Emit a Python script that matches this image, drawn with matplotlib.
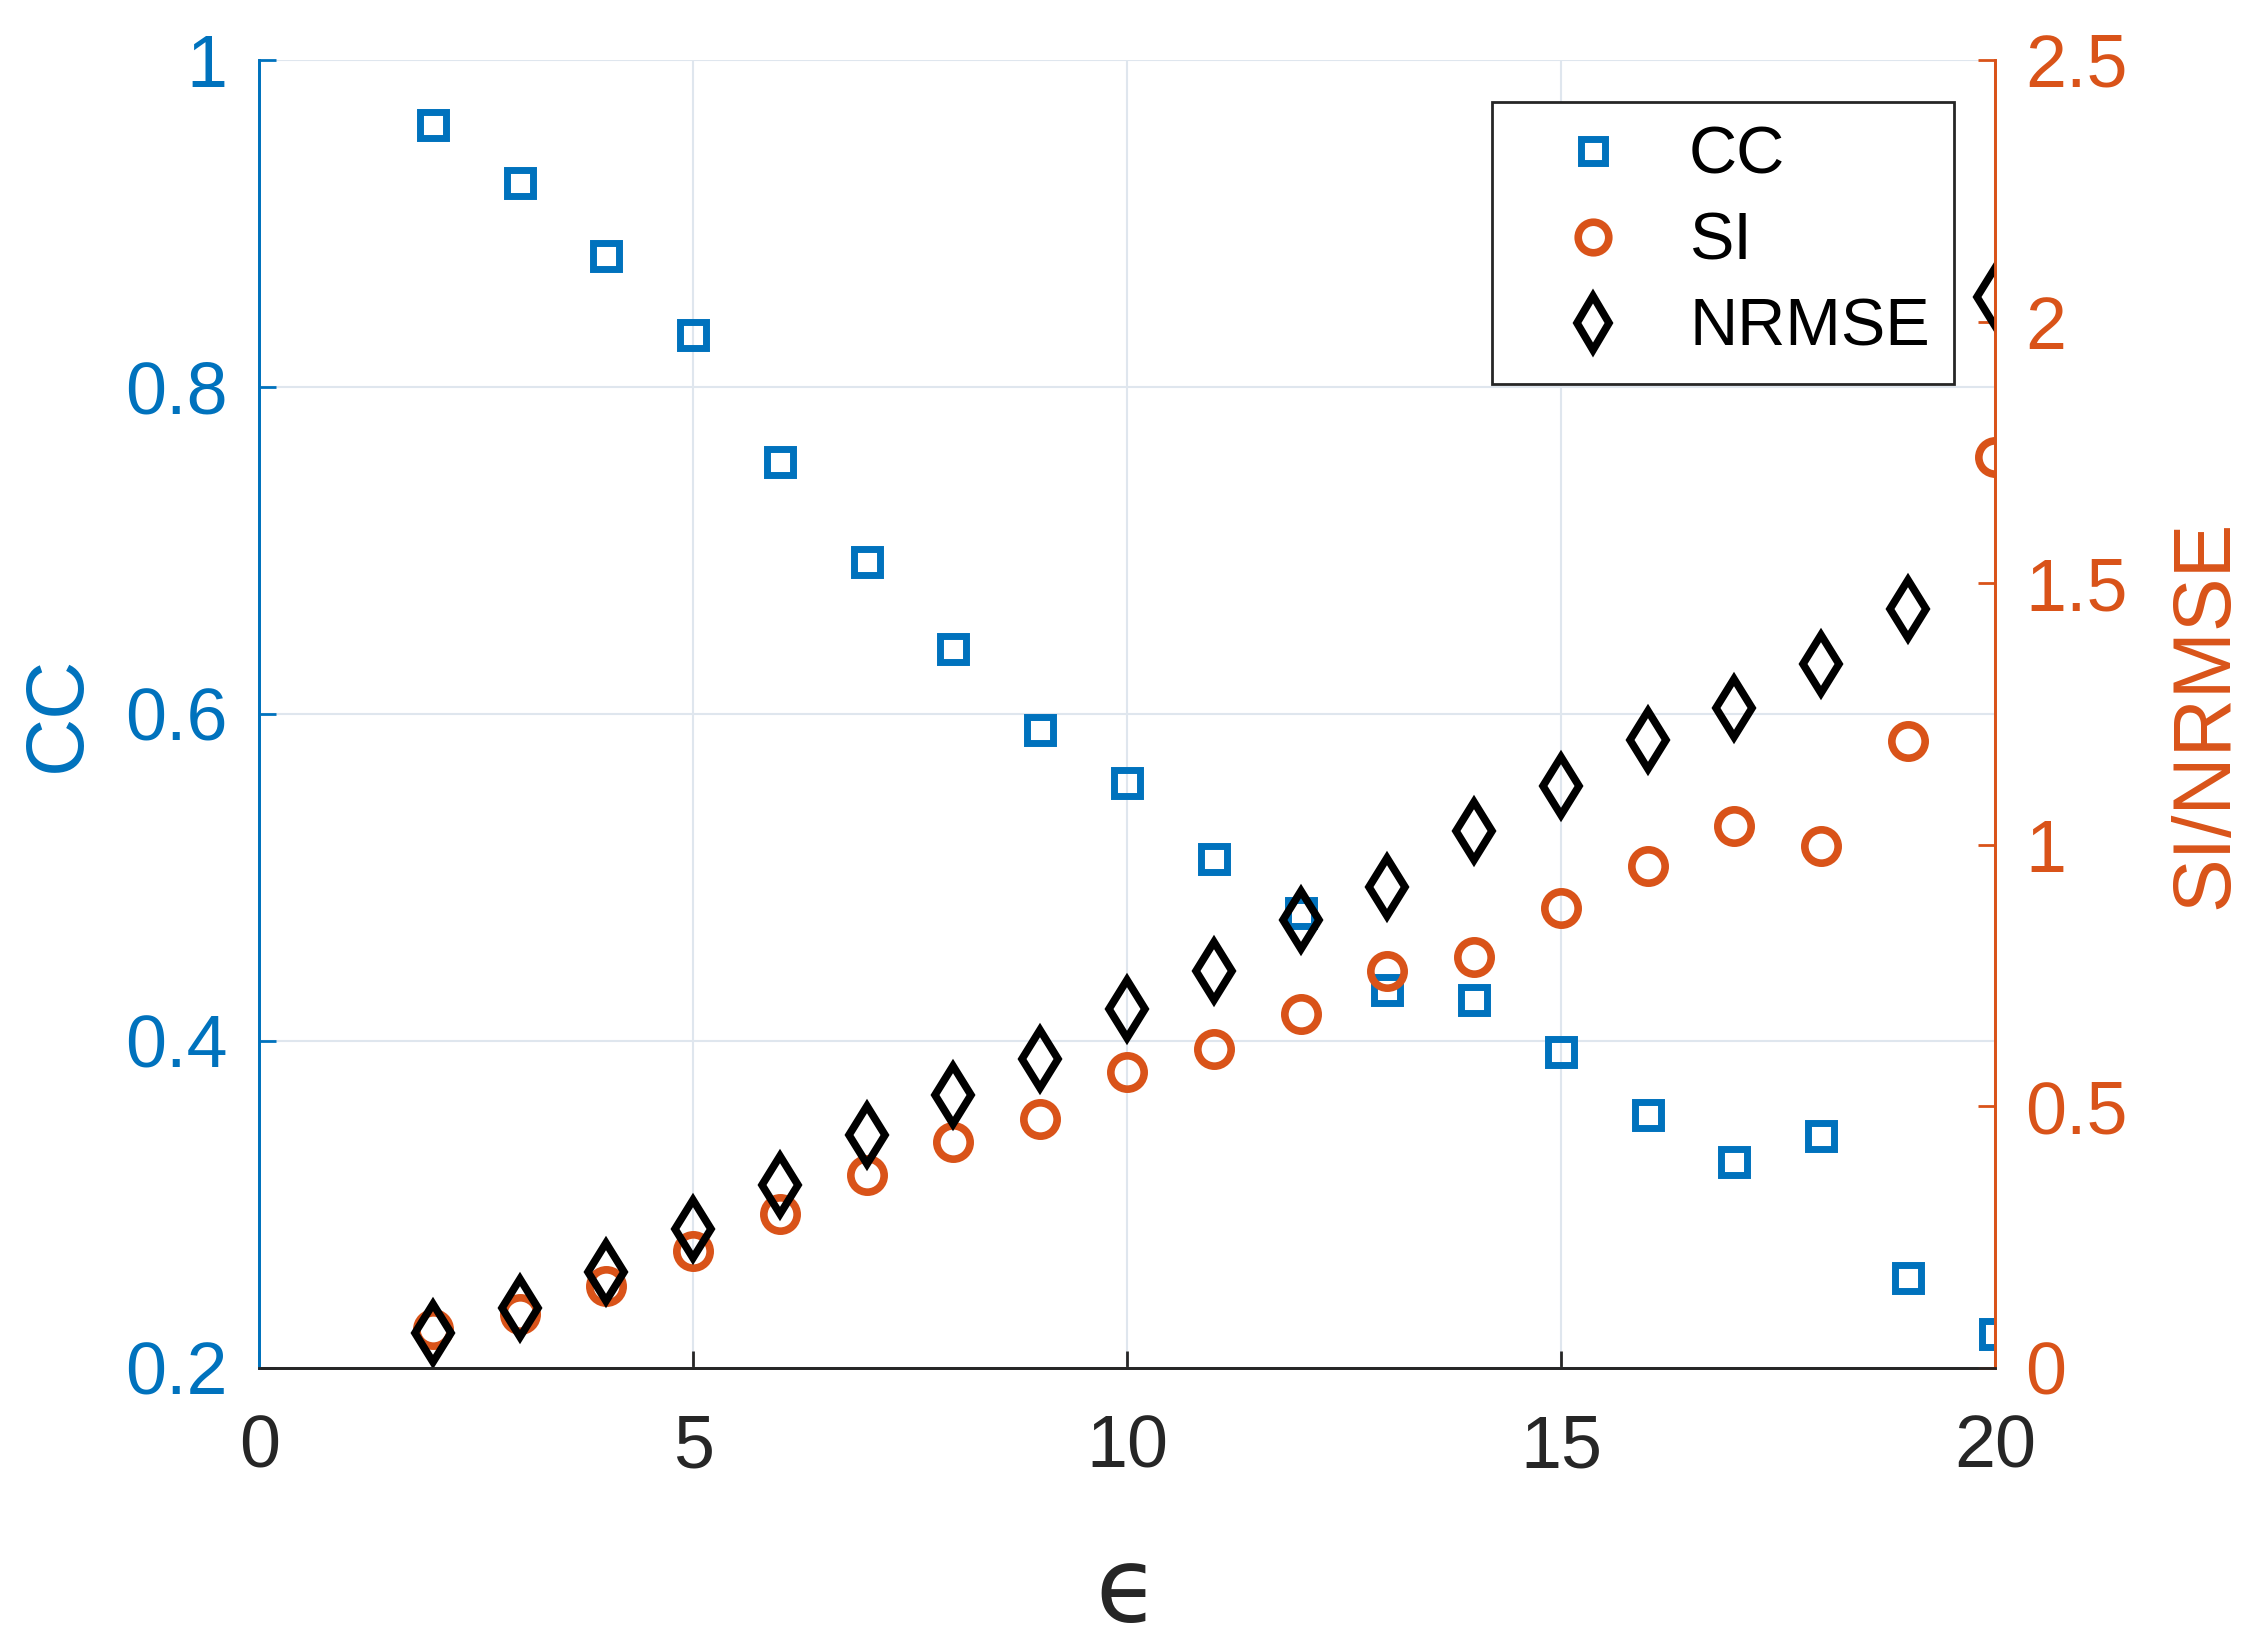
import numpy as np
import matplotlib
matplotlib.use("Agg")
import matplotlib.pyplot as plt
from matplotlib.lines import Line2D

plt.rcParams.update({"font.family": ["Liberation Sans", "DejaVu Sans"]})

# ---------------------------------------------------------------------------
# Data
# ---------------------------------------------------------------------------
eps = [2, 3, 4, 5, 6, 7, 8, 9, 10, 11, 12, 13, 14, 15, 16, 17, 18, 19, 20]
cc = [0.960, 0.925, 0.880, 0.832, 0.754, 0.693, 0.640, 0.590, 0.558, 0.511,
      0.478, 0.431, 0.425, 0.393, 0.355, 0.326, 0.342, 0.255, 0.221]
si = [0.074, 0.104, 0.157, 0.223, 0.294, 0.368, 0.431, 0.475, 0.566, 0.610,
      0.676, 0.758, 0.786, 0.879, 0.959, 1.036, 0.997, 1.198, 1.742]
nrmse = [0.066, 0.115, 0.184, 0.266, 0.349, 0.445, 0.522, 0.591, 0.687, 0.758,
         0.857, 0.920, 1.027, 1.113, 1.201, 1.261, 1.346, 1.451, 2.047]

left_ticks = [0.2, 0.4, 0.6, 0.8, 1.0]
left_labels = ["0.2", "0.4", "0.6", "0.8", "1"]
right_ticks = [0, 0.5, 1.0, 1.5, 2.0, 2.5]
right_labels = ["0", "0.5", "1", "1.5", "2", "2.5"]
x_ticks = [0, 5, 10, 15, 20]

BLUE = "#0072BD"
ORANGE = "#D95319"
DARK = "#262626"
FS = 53       # tick labels
FS_LAB = 58   # axis labels
FS_LEG = 48   # legend

fig = plt.figure(figsize=(22.54, 16.47), dpi=100)
ax = fig.add_axes([0.115, 0.1694, 0.77, 0.7942])
ax2 = ax.twinx()

# CC on left axis
ax.plot(eps, cc, ls="none", marker="s", ms=19, mfc="none", mec=BLUE, mew=5)
ax.set_xlim(0, 20)
ax.set_ylim(0.2, 1.0)
ax.set_xticks(x_ticks)
ax.set_xticklabels([str(t) for t in x_ticks])
ax.set_yticks(left_ticks)
ax.set_yticklabels(left_labels)
ax.grid(True, color="#dfe6ee", lw=1.5)
ax.set_axisbelow(True)
ax.tick_params(axis="x", direction="in", length=12, width=2, colors=DARK,
               labelsize=FS, pad=33)
ax.tick_params(axis="y", direction="in", length=12, width=2, colors=BLUE,
               labelsize=FS, pad=23)
ax.set_ylabel("CC", color=BLUE, fontsize=FS_LAB, labelpad=20)
ax.set_xlabel("\u03f5", color=DARK, fontsize=74, labelpad=43,
              family="DejaVu Sans")

# SI / NRMSE on right axis
ax2.plot(eps, si, ls="none", marker="o", ms=24, mfc="none", mec=ORANGE, mew=5.5)
ax2.plot(eps, nrmse, ls="none", marker="d", ms=30, mfc="none", mec="k", mew=5.5)
ax2.set_ylim(0, 2.5)
ax2.set_yticks(right_ticks)
ax2.set_yticklabels(right_labels)
ax2.tick_params(axis="y", direction="in", length=12, width=2, colors=ORANGE,
                labelsize=FS, pad=22)
ax2.set_ylabel("SI/NRMSE", color=ORANGE, fontsize=FS_LAB, labelpad=29)

for a in (ax, ax2):
    a.spines["top"].set_visible(False)
    a.spines["left"].set_color(BLUE)
    a.spines["right"].set_color(ORANGE)
    a.spines["bottom"].set_color(DARK)
    for s in a.spines.values():
        s.set_linewidth(2)

handles = [
    Line2D([], [], ls="none", marker="s", ms=17, mfc="none", mec=BLUE, mew=5),
    Line2D([], [], ls="none", marker="o", ms=22, mfc="none", mec=ORANGE, mew=5.5),
    Line2D([], [], ls="none", marker="d", ms=28, mfc="none", mec="k", mew=5.5),
]
leg = ax2.legend(handles, ["CC", "SI", "NRMSE"], loc="upper right",
                 bbox_to_anchor=(0.9764, 0.9679), borderaxespad=0,
                 fontsize=FS_LEG, frameon=True,
                 fancybox=False, edgecolor="#262626", framealpha=1,
                 handletextpad=0.28, labelspacing=0.36, borderpad=0.36,
                 handlelength=2.31)
leg.get_frame().set_linewidth(2)

fig.savefig("out.png", dpi=100)
